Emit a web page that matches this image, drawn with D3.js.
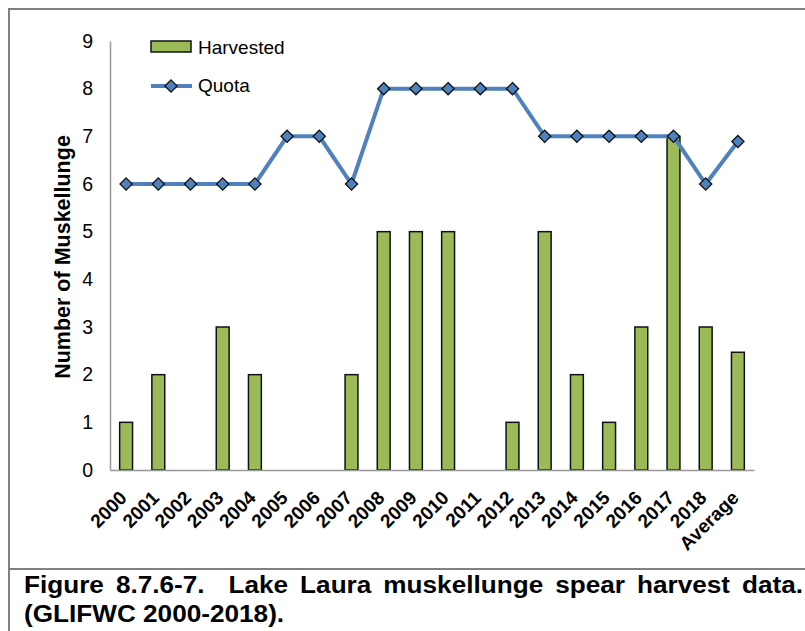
<!DOCTYPE html>
<html>
<head>
<meta charset="utf-8">
<script src="https://cdn.jsdelivr.net/npm/d3@7"></script>
<style>
  body { margin: 0; background: #fff; }
  svg text { font-family: Arial, "Liberation Sans", sans-serif; }
</style>
</head>
<body>
<div id="chart"></div>
<script>
var years = ["2000","2001","2002","2003","2004","2005","2006","2007","2008","2009",
             "2010","2011","2012","2013","2014","2015","2016","2017","2018","Average"];
var harvested = [1,2,0,3,2,0,0,2,5,5,5,0,1,5,2,1,3,7,3,2.47];
var quota = [6,6,6,6,6,7,7,6,8,8,8,8,8,7,7,7,7,7,6,6.89];
var yTicks = [0,1,2,3,4,5,6,7,8,9];
var captionLines = ["Figure 8.7.6-7.  Lake Laura muskellunge spear harvest data.",
                    "(GLIFWC 2000-2018)."];

var data = years.map(function(y, i) {
  return { year: y, harvested: harvested[i], quota: quota[i] };
});

var W = 805, H = 631;
var margin = { left: 110, top: 41, right: 51, bottom: 161 };
var width = W - margin.left - margin.right,
    height = H - margin.top - margin.bottom;
var FONT = "Arial, 'Liberation Sans', sans-serif";

var svg = d3.select("#chart").append("svg")
  .attr("width", W).attr("height", H);

// frame + caption separator
svg.append("path")
  .attr("d", "M9," + H + "V9H" + (W + 5))
  .attr("fill", "none").attr("stroke", "#808080").attr("stroke-width", 2);
svg.append("line")
  .attr("x1", 9).attr("x2", W).attr("y1", 569).attr("y2", 569)
  .attr("stroke", "#808080").attr("stroke-width", 2);

var g = svg.append("g")
  .attr("transform", "translate(" + margin.left + "," + margin.top + ")");

var x = d3.scaleBand().domain(years).range([0, width]).paddingInner(0.6).paddingOuter(0.3);
var xc = function(d) { return x(d) + x.bandwidth() / 2; };
var y = d3.scaleLinear().domain([0, 9]).range([height, 0]);

// y axis
var yAxis = d3.axisLeft(y).tickValues(yTicks).tickSize(0).tickPadding(17);
g.append("g").call(yAxis)
  .call(function(s) {
    s.select(".domain").attr("stroke", "#999").attr("stroke-width", 1.5);
    s.selectAll("text").attr("font-size", 19.5).attr("fill", "#000").attr("font-family", FONT);
  });

// bars
g.selectAll(".bar").data(data).enter().append("rect")
  .attr("class", "bar")
  .attr("x", function(d) { return x(d.year); })
  .attr("width", x.bandwidth())
  .attr("y", function(d) { return y(d.harvested); })
  .attr("height", function(d) { return height - y(d.harvested); })
  .attr("fill", "#9bbb59")
  .attr("stroke", "#111").attr("stroke-width", 1.5)
  .style("display", function(d) { return d.harvested > 0 ? null : "none"; });

// x axis
var xAxis = d3.axisBottom(x).tickSize(0).tickPadding(0);
g.append("g").attr("transform", "translate(0," + height + ")").call(xAxis)
  .call(function(s) {
    s.select(".domain").attr("stroke", "#999").attr("stroke-width", 1.5);
    s.selectAll("text")
      .attr("font-size", 19).attr("font-weight", "bold").attr("fill", "#000")
      .attr("font-family", FONT)
      .attr("text-anchor", "end")
      .attr("dy", 0)
      .attr("y", 0)
      .attr("transform", "translate(2,29) rotate(-45)");
  });

// quota line
var line = d3.line().x(function(d) { return xc(d.year); }).y(function(d) { return y(d.quota); });
g.append("path").datum(data)
  .attr("d", line)
  .attr("fill", "none").attr("stroke", "#4f81bd").attr("stroke-width", 4);

var diamond = d3.symbol().type(d3.symbolDiamond2).size(95);
g.selectAll(".pt").data(data).enter().append("path")
  .attr("class", "pt")
  .attr("d", diamond)
  .attr("transform", function(d) { return "translate(" + xc(d.year) + "," + y(d.quota) + ")"; })
  .attr("fill", "#4f81bd").attr("stroke", "#111").attr("stroke-width", 1.3);

// legend
var lg = svg.append("g");
lg.append("rect").attr("x", 151).attr("y", 41).attr("width", 40).attr("height", 11)
  .attr("fill", "#9bbb59").attr("stroke", "#111").attr("stroke-width", 1.5);
lg.append("text").attr("x", 198).attr("y", 54).attr("font-size", 19).text("Harvested");
lg.append("line").attr("x1", 151).attr("x2", 192).attr("y1", 86).attr("y2", 86)
  .attr("stroke", "#4f81bd").attr("stroke-width", 4);
lg.append("path").attr("d", diamond)
  .attr("transform", "translate(171,86)")
  .attr("fill", "#4f81bd").attr("stroke", "#111").attr("stroke-width", 1.3);
lg.append("text").attr("x", 198).attr("y", 92).attr("font-size", 19).text("Quota");

// y label
svg.append("text")
  .attr("transform", "translate(70,257) rotate(-90)")
  .attr("text-anchor", "middle")
  .attr("font-size", 21.5).attr("font-weight", "bold")
  .text("Number of Muskellunge");

// caption: bold, slightly wide, first line justified (double space counts twice)
var sx = 1.09, capLeft = 24, capRight = 803;
var cap = svg.append("g").attr("transform", "scale(" + sx + ",1)")
  .attr("font-size", 24).attr("font-weight", "bold");
var parts = captionLines[0].split(/(\s+)/);
var words = parts.filter(function(p, i) { return i % 2 == 0; });
var gapW = parts.filter(function(p, i) { return i % 2 == 1; })
                .map(function(s) { return s.length; });
var wEls = words.map(function(w) {
  return cap.append("text").attr("y", 593).text(w);
});
var widths = wEls.map(function(t) { return t.node().getComputedTextLength(); });
var total = d3.sum(widths);
var avail = (capRight - capLeft) / sx;
var gap = (avail - total) / d3.sum(gapW);
var cx = capLeft / sx;
wEls.forEach(function(t, i) {
  t.attr("x", cx);
  cx += widths[i] + (i < gapW.length ? gap * gapW[i] : 0);
});
cap.append("text").attr("x", capLeft / sx).attr("y", 622).text(captionLines[1]);
</script>
</body>
</html>
